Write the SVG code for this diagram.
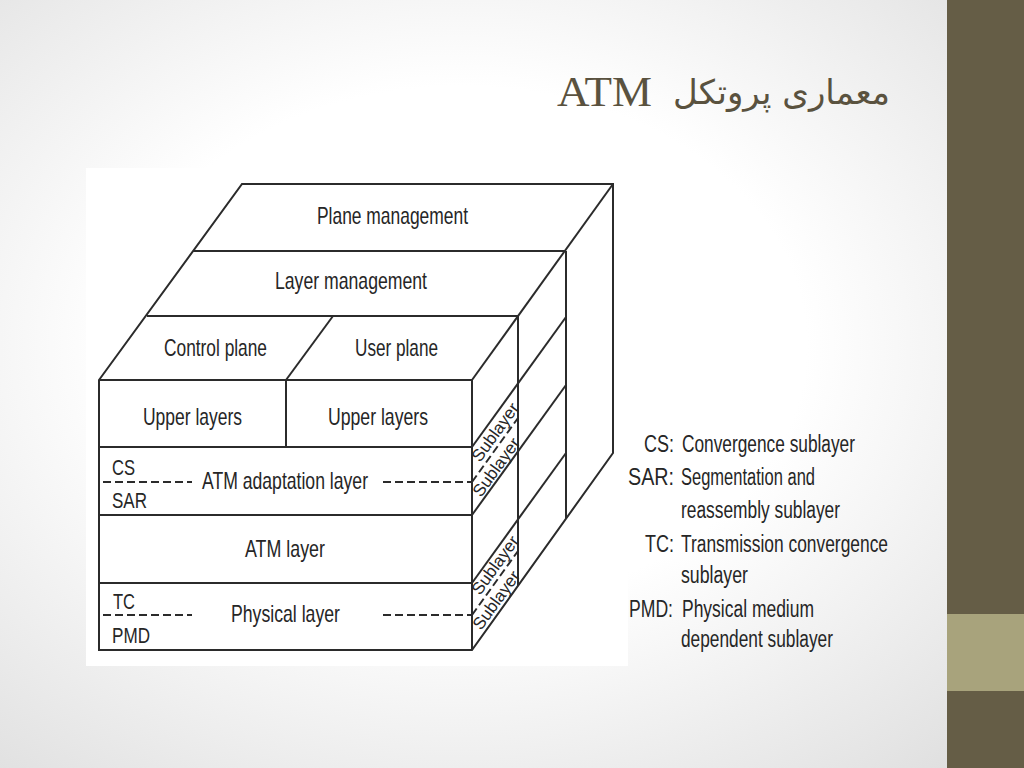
<svg xmlns="http://www.w3.org/2000/svg" width="1024" height="768" viewBox="0 0 1024 768">
<defs>
<radialGradient id="bg" cx="45%" cy="45%" r="75%">
<stop offset="0.45" stop-color="#ffffff"/>
<stop offset="1" stop-color="#dedede"/>
</radialGradient>
<style>
.ln{fill:none;stroke:#2b2b2b;stroke-width:2;stroke-linejoin:miter}
.ds{fill:none;stroke:#2b2b2b;stroke-width:2;stroke-dasharray:8 4}
.t{font-family:"Liberation Sans",Arial,sans-serif;font-size:24px;fill:#262626}
.s{font-family:"Liberation Sans",Arial,sans-serif;font-size:22px;fill:#262626}
.g{font-family:"Liberation Sans",Arial,sans-serif;font-size:23px;fill:#262626}
.sub{font-family:"Liberation Sans",Arial,sans-serif;font-size:17px;fill:#262626}
.ttl{fill:#5a523f}
</style>
</defs>
<rect x="0" y="0" width="1024" height="768" fill="url(#bg)"/>
<rect x="947" y="0" width="77" height="768" fill="#655d46"/>
<rect x="947" y="614" width="77" height="77" fill="#a8a37c"/>

<g id="title">
<text class="ttl" x="557" y="106" font-family="Liberation Serif,'Times New Roman',serif" font-size="42" textLength="95" lengthAdjust="spacingAndGlyphs">ATM</text>
<text class="ttl" x="890" y="104" text-anchor="end" font-family="'DejaVu Sans','Noto Sans',sans-serif" font-size="34">معماری پروتکل</text>
</g>

<rect x="86" y="168" width="542" height="498" fill="#ffffff"/>

<g id="connectors">
<path class="ln" d="M99,380 L242,184 L613,184 L613,453 L472,650 L99,650 Z"/>
<path class="ln" d="M99,380 L472,380 L472,650"/>
<path class="ln" d="M472,380 L613,184"/>
<path class="ln" d="M193,251 L566,251"/>
<path class="ln" d="M147,316 L518,316"/>
<path class="ln" d="M333,316 L286,380"/>
<path class="ln" d="M286,380 L286,447"/>
<path class="ln" d="M99,447 L472,447"/>
<path class="ln" d="M99,515 L472,515"/>
<path class="ln" d="M99,583 L472,583"/>
<path class="ln" d="M518,316 L518,586"/>
<path class="ln" d="M566,251 L566,519"/>
<path class="ln" d="M472,447 L566,317"/>
<path class="ln" d="M472,515 L566,385"/>
<path class="ln" d="M472,583 L566,453"/>
<path class="ds" d="M103,482 L192,482"/>
<path class="ds" d="M383,482 L472,482"/>
<path class="ds" d="M472,482 L518,418"/>
<path class="ds" d="M103,615 L192,615"/>
<path class="ds" d="M383,615 L472,615"/>
<path class="ds" d="M472,615 L518,551"/>
</g>

<g id="plane-management"><text class="t" x="317" y="224" textLength="151" lengthAdjust="spacingAndGlyphs">Plane management</text></g>
<g id="layer-management"><text class="t" x="275" y="289" textLength="152" lengthAdjust="spacingAndGlyphs">Layer management</text></g>
<g id="control-plane"><text class="t" x="164" y="356" textLength="103" lengthAdjust="spacingAndGlyphs">Control plane</text></g>
<g id="user-plane"><text class="t" x="355" y="356" textLength="83" lengthAdjust="spacingAndGlyphs">User plane</text></g>
<g id="upper-layers-1"><text class="t" x="143" y="425" textLength="99" lengthAdjust="spacingAndGlyphs">Upper layers</text></g>
<g id="upper-layers-2"><text class="t" x="328" y="425" textLength="100" lengthAdjust="spacingAndGlyphs">Upper layers</text></g>
<g id="aal">
<text class="t" x="202" y="489" textLength="166" lengthAdjust="spacingAndGlyphs">ATM adaptation layer</text>
<text class="s" x="112" y="475" textLength="23" lengthAdjust="spacingAndGlyphs">CS</text>
<text class="s" x="112" y="508" textLength="35" lengthAdjust="spacingAndGlyphs">SAR</text>
<text class="sub" transform="translate(495,432) rotate(-54.1)" x="0" y="6" text-anchor="middle" textLength="68" lengthAdjust="spacingAndGlyphs">Sublayer</text>
<text class="sub" transform="translate(496,467) rotate(-54.1)" x="0" y="6" text-anchor="middle" textLength="68" lengthAdjust="spacingAndGlyphs">Sublayer</text>
</g>
<g id="atm-layer"><text class="t" x="245" y="557" textLength="80" lengthAdjust="spacingAndGlyphs">ATM layer</text></g>
<g id="physical-layer">
<text class="t" x="231" y="622" textLength="109" lengthAdjust="spacingAndGlyphs">Physical layer</text>
<text class="s" x="113" y="609" textLength="22" lengthAdjust="spacingAndGlyphs">TC</text>
<text class="s" x="112" y="643" textLength="38" lengthAdjust="spacingAndGlyphs">PMD</text>
<text class="sub" transform="translate(495,565) rotate(-54.1)" x="0" y="6" text-anchor="middle" textLength="68" lengthAdjust="spacingAndGlyphs">Sublayer</text>
<text class="sub" transform="translate(496,600) rotate(-54.1)" x="0" y="6" text-anchor="middle" textLength="68" lengthAdjust="spacingAndGlyphs">Sublayer</text>
</g>

<g id="legend">
<text class="g" x="674" y="452" text-anchor="end" textLength="30" lengthAdjust="spacingAndGlyphs">CS:</text>
<text class="g" x="682" y="452" textLength="173" lengthAdjust="spacingAndGlyphs">Convergence sublayer</text>
<text class="g" x="674" y="485" text-anchor="end" textLength="46" lengthAdjust="spacingAndGlyphs">SAR:</text>
<text class="g" x="681" y="485" textLength="134" lengthAdjust="spacingAndGlyphs">Segmentation and</text>
<text class="g" x="681" y="518" textLength="159" lengthAdjust="spacingAndGlyphs">reassembly sublayer</text>
<text class="g" x="674" y="552" text-anchor="end" textLength="29" lengthAdjust="spacingAndGlyphs">TC:</text>
<text class="g" x="681" y="552" textLength="207" lengthAdjust="spacingAndGlyphs">Transmission convergence</text>
<text class="g" x="681" y="583" textLength="67" lengthAdjust="spacingAndGlyphs">sublayer</text>
<text class="g" x="673" y="617" text-anchor="end" textLength="44" lengthAdjust="spacingAndGlyphs">PMD:</text>
<text class="g" x="682" y="617" textLength="132" lengthAdjust="spacingAndGlyphs">Physical medium</text>
<text class="g" x="681" y="647" textLength="152" lengthAdjust="spacingAndGlyphs">dependent sublayer</text>
</g>
</svg>
